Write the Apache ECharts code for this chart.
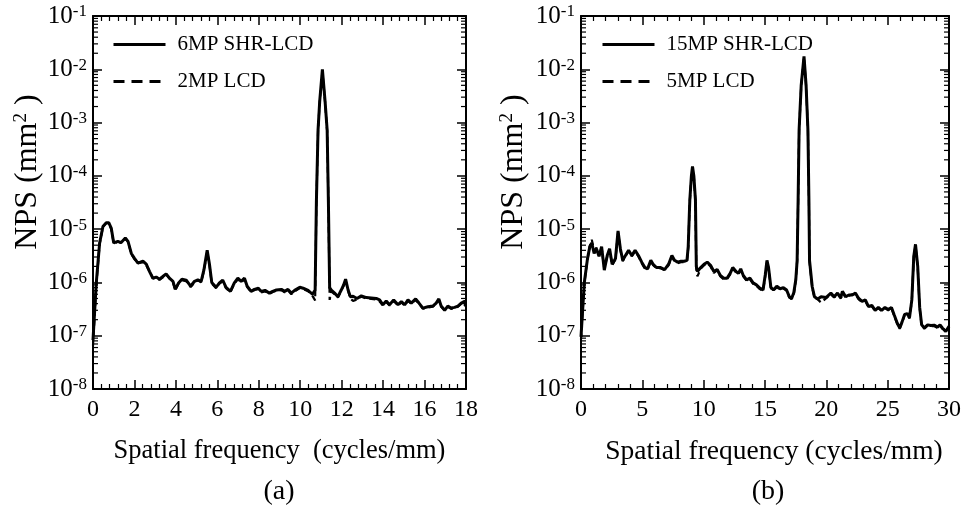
<!DOCTYPE html>
<html>
<head>
<meta charset="utf-8">
<script src="https://cdn.jsdelivr.net/npm/echarts@6/dist/echarts.min.js"></script>
<style>html,body{margin:0;padding:0;background:#fff}#c{width:964px;height:520px}</style>
</head>
<body>
<div id="c"></div>
<script>
// ---------- Data ----------
const leftNames = ['6MP SHR-LCD', '2MP LCD'];
const rightNames = ['15MP SHR-LCD', '5MP LCD'];

const leftX = [0,0.16,0.32,0.48,0.64,0.76,0.88,1.0,1.2,1.36,1.56,1.69,1.85,2.01,2.17,2.41,2.57,2.73,2.89,3.05,3.21,3.37,3.53,3.69,3.86,3.97,4.13,4.29,4.5,4.71,4.9,5.06,5.22,5.35,5.51,5.62,5.73,5.94,6.1,6.26,6.42,6.63,6.82,6.99,7.15,7.31,7.44,7.63,7.79,7.98,8.11,8.3,8.51,8.67,8.85,9.09,9.25,9.41,9.57,9.73,9.98,10.14,10.38,10.59,10.72,10.78,10.86,10.94,11.07,11.2,11.3,11.36,11.42,11.5,11.66,11.82,11.98,12.09,12.19,12.31,12.42,12.55,12.74,12.95,13.19,13.43,13.67,13.83,13.99,14.15,14.31,14.51,14.72,14.88,15.04,15.2,15.36,15.57,15.73,15.92,16.16,16.4,16.56,16.69,16.8,16.97,17.12,17.28,17.45,17.61,17.77,17.93,18.0];
const leftSolid = [8.3e-8,1.0e-6,5.5e-6,1.12e-5,1.32e-5,1.32e-5,1.05e-5,5.5e-6,5.9e-6,5.6e-6,6.8e-6,5.9e-6,3.5e-6,2.8e-6,2.3e-6,2.5e-6,2.2e-6,1.6e-6,1.2e-6,1.26e-6,1.15e-6,1.29e-6,1.45e-6,1.2e-6,1.05e-6,7.4e-7,9.8e-7,1.15e-6,1.1e-6,8.5e-7,1.05e-6,1.12e-6,1.05e-6,1.7e-6,4.0e-6,2.2e-6,1.0e-6,8.1e-7,9.8e-7,1.1e-6,8.1e-7,6.8e-7,9.8e-7,1.2e-6,1.05e-6,1.2e-6,8.5e-7,6.8e-7,7.4e-7,7.8e-7,6.8e-7,7.1e-7,6.3e-7,6.8e-7,7.2e-7,7.4e-7,6.8e-7,7.4e-7,6.3e-7,7.1e-7,8.1e-7,7.8e-7,7.1e-7,6.0e-7,7.2e-7,3.2e-5,7.2e-4,2.5e-3,1.0e-2,2.5e-3,7.2e-4,3.2e-5,8.0e-7,7.2e-7,6.3e-7,5.4e-7,7.2e-7,8.9e-7,1.15e-6,7.2e-7,5.4e-7,5.5e-7,5.0e-7,5.6e-7,5.2e-7,5.1e-7,5.0e-7,4.7e-7,3.8e-7,4.5e-7,3.8e-7,4.7e-7,3.8e-7,4.4e-7,3.8e-7,4.7e-7,4.1e-7,4.9e-7,4.1e-7,3.3e-7,3.5e-7,3.6e-7,4.1e-7,4.9e-7,3.6e-7,3.0e-7,3.6e-7,3.3e-7,3.4e-7,3.6e-7,4.1e-7,4.4e-7,4.4e-7];
const leftDashed = [6.5e-8,9.0e-7,5.2e-6,1.1e-5,1.3e-5,1.3e-5,1.0e-5,5.4e-6,5.8e-6,5.5e-6,6.6e-6,5.8e-6,3.4e-6,2.7e-6,2.3e-6,2.4e-6,2.1e-6,1.6e-6,1.2e-6,1.22e-6,1.12e-6,1.25e-6,1.4e-6,1.18e-6,1.0e-6,7.2e-7,9.5e-7,1.1e-6,1.05e-6,8.2e-7,1.0e-6,1.1e-6,1.0e-6,1.65e-6,3.8e-6,2.1e-6,9.6e-7,7.8e-7,9.5e-7,1.05e-6,7.8e-7,6.6e-7,9.5e-7,1.15e-6,1.0e-6,1.15e-6,8.2e-7,6.6e-7,7.2e-7,7.5e-7,6.5e-7,6.8e-7,6.1e-7,6.6e-7,7.0e-7,7.2e-7,6.5e-7,7.1e-7,6.0e-7,6.8e-7,7.8e-7,7.5e-7,6.8e-7,5.6e-7,4.6e-7,3.0e-5,6.8e-4,2.4e-3,9.0e-3,2.4e-3,6.8e-4,3.0e-5,4.7e-7,6.8e-7,6.0e-7,5.2e-7,7.0e-7,8.6e-7,1.1e-6,7.0e-7,5.0e-7,4.5e-7,4.8e-7,5.4e-7,5.0e-7,4.9e-7,4.8e-7,4.4e-7,3.7e-7,4.3e-7,3.7e-7,4.5e-7,3.7e-7,4.2e-7,3.7e-7,4.5e-7,4.0e-7,4.7e-7,4.0e-7,3.2e-7,3.4e-7,3.5e-7,4.0e-7,4.7e-7,3.5e-7,3.0e-7,3.5e-7,3.2e-7,3.3e-7,3.5e-7,4.0e-7,3.6e-7,4.6e-7];

const rightX = [0,0.27,0.53,0.72,0.88,1.07,1.26,1.47,1.68,1.9,2.14,2.33,2.54,2.81,3.02,3.21,3.4,3.66,3.88,4.14,4.41,4.68,4.95,5.21,5.43,5.69,5.88,6.15,6.49,6.82,7.14,7.41,7.62,7.88,8.15,8.42,8.64,8.74,8.87,9.0,9.09,9.2,9.33,9.4,9.49,9.76,10.03,10.29,10.56,10.83,11.1,11.36,11.63,11.9,12.16,12.37,12.64,12.83,13.02,13.23,13.5,13.77,14.03,14.3,14.57,14.84,15.02,15.16,15.29,15.48,15.69,15.96,16.23,16.5,16.76,16.98,17.17,17.35,17.51,17.62,17.7,17.78,17.95,18.18,18.35,18.5,18.58,18.63,18.85,19.03,19.3,19.57,19.97,20.37,20.64,20.91,21.18,21.31,21.58,21.84,22.11,22.37,22.64,22.91,23.18,23.44,23.71,23.98,24.24,24.51,24.78,25.05,25.31,25.52,25.79,25.98,26.17,26.38,26.6,26.78,26.97,27.13,27.27,27.45,27.61,27.77,27.99,28.26,28.52,28.79,29.06,29.27,29.46,29.73,30.0];
const rightSolid = [9.5e-8,1.0e-6,2.8e-6,4.7e-6,5.5e-6,3.5e-6,4.3e-6,3.1e-6,4.7e-6,1.7e-6,3.2e-6,4.3e-6,2.2e-6,2.8e-6,9.3e-6,4.3e-6,2.6e-6,3.3e-6,4.0e-6,3.2e-6,4.0e-6,3.2e-6,2.4e-6,1.9e-6,1.8e-6,2.6e-6,2.2e-6,1.9e-6,1.9e-6,1.74e-6,2.2e-6,3.2e-6,2.6e-6,2.4e-6,2.5e-6,2.5e-6,2.6e-6,4.7e-6,3.5e-5,1.0e-4,1.5e-4,1.0e-4,3.5e-5,2.0e-6,1.6e-6,1.9e-6,2.2e-6,2.4e-6,2.1e-6,1.6e-6,1.75e-6,1.35e-6,1.2e-6,1.2e-6,1.48e-6,1.9e-6,1.6e-6,1.48e-6,1.8e-6,1.35e-6,1.12e-6,1.2e-6,9.8e-7,9.0e-7,7.8e-7,7.2e-7,1.38e-6,2.6e-6,1.9e-6,8.1e-7,7.2e-7,8.5e-7,7.6e-7,8.0e-7,7.2e-7,5.4e-7,5.0e-7,6.5e-7,1.12e-6,2.6e-6,3.5e-5,7.2e-4,5.0e-3,1.74e-2,5.0e-3,7.2e-4,3.5e-5,2.6e-6,8.3e-7,5.4e-7,4.9e-7,5.4e-7,5.2e-7,6.3e-7,5.4e-7,6.3e-7,5.2e-7,6.8e-7,5.4e-7,5.8e-7,5.8e-7,6.3e-7,5.0e-7,4.4e-7,4.7e-7,3.5e-7,3.7e-7,3.0e-7,3.4e-7,3.0e-7,3.4e-7,3.1e-7,3.4e-7,2.5e-7,1.7e-7,1.4e-7,1.8e-7,2.5e-7,2.6e-7,2.2e-7,4.7e-7,3.1e-6,5.2e-6,2.0e-6,3.4e-7,1.6e-7,1.4e-7,1.6e-7,1.55e-7,1.58e-7,1.45e-7,1.6e-7,1.4e-7,1.2e-7,1.5e-7];
const rightDashed = [8.5e-8,9.5e-7,2.7e-6,4.9e-6,6.3e-6,4.0e-6,4.5e-6,3.2e-6,4.5e-6,1.8e-6,3.1e-6,4.2e-6,2.1e-6,2.7e-6,8.8e-6,4.1e-6,2.5e-6,3.2e-6,3.9e-6,3.1e-6,3.8e-6,3.1e-6,2.3e-6,1.8e-6,1.75e-6,2.5e-6,2.1e-6,1.85e-6,1.85e-6,1.7e-6,2.1e-6,3.0e-6,2.5e-6,2.3e-6,2.4e-6,2.4e-6,2.5e-6,4.4e-6,3.3e-5,9.5e-5,1.4e-4,9.5e-5,3.3e-5,1.8e-6,1.3e-6,1.8e-6,2.1e-6,2.3e-6,2.0e-6,1.5e-6,1.7e-6,1.3e-6,1.15e-6,1.15e-6,1.42e-6,1.8e-6,1.55e-6,1.42e-6,1.7e-6,1.3e-6,1.08e-6,1.15e-6,9.4e-7,8.7e-7,7.5e-7,7.0e-7,1.3e-6,2.5e-6,1.8e-6,7.8e-7,7.0e-7,8.2e-7,7.3e-7,7.7e-7,7.0e-7,5.2e-7,4.9e-7,6.0e-7,1.08e-6,2.5e-6,3.3e-5,7.0e-4,4.8e-3,1.68e-2,4.8e-3,7.0e-4,3.3e-5,2.4e-6,8.0e-7,5.2e-7,4.8e-7,4.2e-7,5.0e-7,6.0e-7,5.2e-7,6.0e-7,5.0e-7,6.5e-7,5.2e-7,5.6e-7,6.0e-7,6.0e-7,4.8e-7,4.3e-7,4.5e-7,3.4e-7,3.6e-7,2.9e-7,3.3e-7,2.9e-7,3.3e-7,3.0e-7,3.3e-7,2.4e-7,1.65e-7,1.35e-7,1.75e-7,2.4e-7,2.5e-7,2.1e-7,4.5e-7,3.0e-6,5.0e-6,1.9e-6,3.3e-7,1.55e-7,1.35e-7,1.55e-7,1.5e-7,1.52e-7,1.4e-7,1.55e-7,1.35e-7,1.3e-7,1.2e-7];

const leftXTicks = {min: 0, max: 18, interval: 2};
const rightXTicks = {min: 0, max: 30, interval: 5};
const yRange = {min: 1e-8, max: 1e-1};
const xTitleLeft = 'Spatial frequency  (cycles/mm)';
const xTitleRight = 'Spatial frequency (cycles/mm)';
const yTitle = 'NPS (mm{s|2} )';
const panelLabels = ['(a)', '(b)'];

// ---------- Chart ----------
const FONT = "'Liberation Serif','Times New Roman',serif";
const chart = echarts.init(document.getElementById('c'), null, {renderer: 'canvas'});

const minorVals = [];
for (let e = -8; e < -1; e++) for (let m = 2; m <= 9; m++) minorVals.push(m * Math.pow(10, e));

const pair = (xs, ys) => xs.map((x, i) => [x, ys[i]]);
const grids = [
  {left: 93, top: 16, width: 373, height: 373},
  {left: 581, top: 16, width: 374, height: 373}
];

function xAxes(gi, t, title, nameSize, namePad) {
  const common = {
    type: 'value', gridIndex: gi, min: t.min, max: t.max, interval: t.interval,
    axisLine: {show: true, onZero: false, lineStyle: {color: '#000', width: 2}},
    axisTick: {show: true, inside: true, length: 9, lineStyle: {color: '#000', width: 1.5}},
    minorTick: {show: true, splitNumber: 5, length: 5, lineStyle: {color: '#000', width: 1.2}},
    splitLine: {show: false}
  };
  return [
    Object.assign({}, common, {position: 'bottom',
      axisLabel: {fontFamily: FONT, fontSize: 24, color: '#000', margin: 9},
      name: title, nameLocation: 'middle', nameGap: 49,
      nameTextStyle: {fontFamily: FONT, fontSize: nameSize, color: '#000', padding: namePad}}),
    Object.assign({}, common, {position: 'top', axisLabel: {show: false}})
  ];
}
function yAxes(gi) {
  const common = {
    type: 'log', logBase: 10, gridIndex: gi, min: yRange.min, max: yRange.max, splitNumber: 7,
    axisLine: {show: true, onZero: false, lineStyle: {color: '#000', width: 2}},
    axisTick: {show: true, inside: true, length: 9, lineStyle: {color: '#000', width: 1.5}},
    splitLine: {show: false}
  };
  return [
    Object.assign({}, common, {position: 'left',
      axisLabel: {margin: 6, color: '#000',
        formatter: v => '{b|10}{s|' + Math.round(Math.log10(v)) + '}',
        rich: {b: {fontFamily: FONT, fontSize: 25, color: '#000'},
               s: {fontFamily: FONT, fontSize: 17, color: '#000', verticalAlign: 'top'}}}}),
    Object.assign({}, common, {position: 'right', axisLabel: {show: false}})
  ];
}
function minorTicks(xi, yi) {
  return {
    type: 'custom', xAxisIndex: xi, yAxisIndex: yi, silent: true, clip: false, z: 5,
    data: minorVals.map(v => [0, v]),
    renderItem: (params, api) => {
      const cs = params.coordSys;
      const y = api.coord([api.value(0), api.value(1)])[1];
      const st = {stroke: '#000', lineWidth: 1.2};
      return {type: 'group', children: [
        {type: 'line', shape: {x1: cs.x, y1: y, x2: cs.x + 5, y2: y}, style: st},
        {type: 'line', shape: {x1: cs.x + cs.width, y1: y, x2: cs.x + cs.width - 5, y2: y}, style: st}
      ]};
    }
  };
}
function lineSeries(name, xi, yi, xs, ys, dashed) {
  return {
    name, type: 'line', xAxisIndex: xi, yAxisIndex: yi, data: pair(xs, ys),
    symbol: 'none', smooth: false, z: dashed ? 3 : 4,
    lineStyle: {color: '#000', width: dashed ? 2.2 : 3, type: dashed ? [6, 4] : 'solid'},
    itemStyle: {color: '#000'}
  };
}

const ax0 = xAxes(0, leftXTicks, xTitleLeft, 26.5, [0, 0, 0, 0]);
const ax1 = xAxes(1, rightXTicks, xTitleRight, 27.5, [0, 0, 0, 18]);
const ay0 = yAxes(0), ay1 = yAxes(1);

const legendCommon = {
  orient: 'vertical', itemWidth: 52, itemHeight: 14, itemGap: 16,
  itemStyle: {opacity: 0},
  lineStyle: {width: 3},
  textStyle: {fontFamily: FONT, fontSize: 21, color: '#000', padding: [0, 0, 0, 7]}
};
const legendItems = names => [
  {name: names[0]},
  {name: names[1], lineStyle: {width: 3, type: [11, 7]}}
];

const yNameRich = {s: {fontFamily: FONT, fontSize: 19, color: '#000', verticalAlign: 'top'}};

chart.setOption({
  animation: false,
  backgroundColor: '#fff',
  grid: grids,
  xAxis: [ax0[0], ax0[1], ax1[0], ax1[1]],
  yAxis: [ay0[0], ay0[1], ay1[0], ay1[1]],
  legend: [
    Object.assign({}, legendCommon, {data: legendItems(leftNames), left: 107, top: 29}),
    Object.assign({}, legendCommon, {data: legendItems(rightNames), left: 596, top: 29})
  ],
  series: [
    lineSeries(leftNames[1], 0, 0, leftX, leftDashed, true),
    lineSeries(leftNames[0], 0, 0, leftX, leftSolid, false),
    lineSeries(rightNames[1], 2, 2, rightX, rightDashed, true),
    lineSeries(rightNames[0], 2, 2, rightX, rightSolid, false),
    minorTicks(0, 0),
    minorTicks(2, 2)
  ],
  graphic: [
    {type: 'text', x: 28, y: 172, rotation: Math.PI / 2,
     style: {text: yTitle, fontFamily: FONT, fontSize: 32, fill: '#000', align: 'center', verticalAlign: 'middle', rich: yNameRich}},
    {type: 'text', x: 514, y: 172, rotation: Math.PI / 2,
     style: {text: yTitle, fontFamily: FONT, fontSize: 32, fill: '#000', align: 'center', verticalAlign: 'middle', rich: yNameRich}},
    {type: 'text', x: 279, y: 492,
     style: {text: panelLabels[0], fontFamily: FONT, fontSize: 28, fill: '#000', align: 'center', verticalAlign: 'middle'}},
    {type: 'text', x: 768, y: 492,
     style: {text: panelLabels[1], fontFamily: FONT, fontSize: 28, fill: '#000', align: 'center', verticalAlign: 'middle'}}
  ]
});
</script>
</body>
</html>
